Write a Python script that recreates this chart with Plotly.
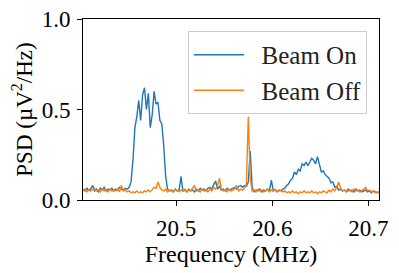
import plotly.graph_objects as go

# Frequency sampling grid (MHz)
freq_start = 20.403
freq_step = 0.002
n_points = 155
freq = [round(freq_start + freq_step * i, 3) for i in range(n_points)]

# PSD values (uV^2/Hz)
beam_on = [
    0.06, 0.05, 0.065, 0.055, 0.06, 0.08, 0.05, 0.06, 0.045, 0.065,
    0.055, 0.07, 0.05, 0.06, 0.055, 0.065, 0.05, 0.06, 0.055, 0.07,
    0.06, 0.055, 0.065, 0.06, 0.07, 0.10, 0.22, 0.40, 0.46, 0.55,
    0.44, 0.58, 0.62, 0.50, 0.59, 0.40, 0.47, 0.60, 0.53, 0.54,
    0.44, 0.42, 0.30, 0.13, 0.06, 0.05, 0.055, 0.045, 0.06, 0.05,
    0.055, 0.13, 0.05, 0.055, 0.045, 0.06, 0.05, 0.055, 0.045, 0.06,
    0.05, 0.065, 0.055, 0.06, 0.05, 0.065, 0.07, 0.06, 0.085, 0.105,
    0.06, 0.075, 0.055, 0.06, 0.05, 0.065, 0.055, 0.06, 0.065, 0.07,
    0.06, 0.075, 0.08, 0.07, 0.08, 0.075, 0.10, 0.27, 0.07, 0.045,
    0.055, 0.05, 0.06, 0.045, 0.055, 0.05, 0.06, 0.05, 0.11, 0.05,
    0.055, 0.045, 0.055, 0.05, 0.06, 0.065, 0.08, 0.09, 0.11, 0.12,
    0.155, 0.14, 0.17, 0.16, 0.20, 0.19, 0.21, 0.19, 0.21, 0.23,
    0.22, 0.20, 0.24, 0.20, 0.155, 0.16, 0.14, 0.13, 0.12, 0.095,
    0.10, 0.07, 0.075, 0.055, 0.06, 0.05, 0.055, 0.045, 0.06, 0.05,
    0.055, 0.045, 0.06, 0.05, 0.055, 0.045, 0.05, 0.055, 0.045, 0.05,
    0.04, 0.05, 0.045, 0.04, 0.045,
]

beam_off = [
    0.05, 0.06, 0.045, 0.055, 0.05, 0.06, 0.065, 0.05, 0.055, 0.045,
    0.06, 0.05, 0.055, 0.045, 0.06, 0.05, 0.055, 0.05, 0.06, 0.045,
    0.08, 0.05, 0.055, 0.045, 0.05, 0.04, 0.045, 0.04, 0.05, 0.04,
    0.045, 0.04, 0.05, 0.045, 0.055, 0.045, 0.06, 0.07, 0.065, 0.10,
    0.07, 0.055, 0.05, 0.06, 0.045, 0.055, 0.05, 0.045, 0.06, 0.05,
    0.045, 0.055, 0.05, 0.06, 0.045, 0.055, 0.05, 0.065, 0.08, 0.05,
    0.055, 0.045, 0.06, 0.05, 0.055, 0.045, 0.06, 0.05, 0.07, 0.06,
    0.08, 0.12, 0.06, 0.05, 0.055, 0.045, 0.06, 0.05, 0.055, 0.065,
    0.08, 0.05, 0.06, 0.055, 0.065, 0.09, 0.46, 0.12, 0.05, 0.055,
    0.045, 0.06, 0.05, 0.055, 0.045, 0.05, 0.06, 0.045, 0.055, 0.05,
    0.06, 0.045, 0.05, 0.055, 0.045, 0.05, 0.04, 0.045, 0.04, 0.05,
    0.04, 0.045, 0.035, 0.045, 0.04, 0.05, 0.04, 0.045, 0.04, 0.05,
    0.04, 0.045, 0.035, 0.045, 0.04, 0.05, 0.045, 0.04, 0.055, 0.045,
    0.06, 0.05, 0.07, 0.10, 0.065, 0.05, 0.055, 0.045, 0.05, 0.055,
    0.045, 0.06, 0.05, 0.055, 0.045, 0.05, 0.06, 0.07, 0.05, 0.055,
    0.045, 0.05, 0.04, 0.045, 0.04,
]

series_names = ["Beam On", "Beam Off"]
x_ticks = [20.5, 20.6, 20.7]
x_tick_labels = ["20.5", "20.6", "20.7"]
y_ticks = [0.0, 0.5, 1.0]
y_tick_labels = ["0.0", "0.5", "1.0"]

FONT = "Liberation Serif"
NB = "\u00a0\u00a0"

fig = go.Figure()
fig.add_trace(go.Scatter(x=freq, y=beam_on, mode="lines", name=NB + series_names[0],
                         line=dict(color="#1f77b4", width=1.4)))
fig.add_trace(go.Scatter(x=freq, y=beam_off, mode="lines", name=NB + series_names[1],
                         line=dict(color="#ff7f0e", width=1.4)))

# page body has an 8px margin, so the figure is drawn 8px in from the corner
fig.update_layout(
    width=391, height=265,
    margin=dict(l=75, r=20, t=11, b=73, pad=0, autoexpand=False),
    paper_bgcolor="white", plot_bgcolor="white",
    font=dict(family=FONT, size=22, color="black"),
    showlegend=True,
    legend=dict(
        x=0.9595, xanchor="right", y=0.934, yanchor="top",
        bgcolor="rgba(255,255,255,0.8)", bordercolor="#cccccc", borderwidth=1,
        font=dict(family=FONT, size=25, color="#222222"),
        itemwidth=50, tracegroupgap=0,
    ),
)
fig.update_xaxes(
    range=[20.403, 20.711], tickvals=x_ticks, ticktext=x_tick_labels,
    showline=True, mirror=True, linecolor="black", linewidth=1,
    ticks="outside", ticklen=5, tickcolor="black", showgrid=False, zeroline=False,
    automargin=False, tickfont=dict(size=23), ticklabelstandoff=2,
    ticklabeloverflow="allow",
    title=dict(text="Frequency (MHz)", standoff=1, font=dict(size=24)),
)
fig.update_yaxes(
    range=[0, 1], tickvals=y_ticks, ticktext=y_tick_labels,
    showline=True, mirror=True, linecolor="black", linewidth=1,
    ticks="outside", ticklen=5, tickcolor="black", showgrid=False, zeroline=False,
    automargin=False, tickfont=dict(size=23), ticklabelstandoff=2,
    ticklabeloverflow="allow",
    title=dict(text="PSD (µV<sup>2</sup>/Hz)", standoff=6, font=dict(size=23)),
)

fig.write_html("out.html")
